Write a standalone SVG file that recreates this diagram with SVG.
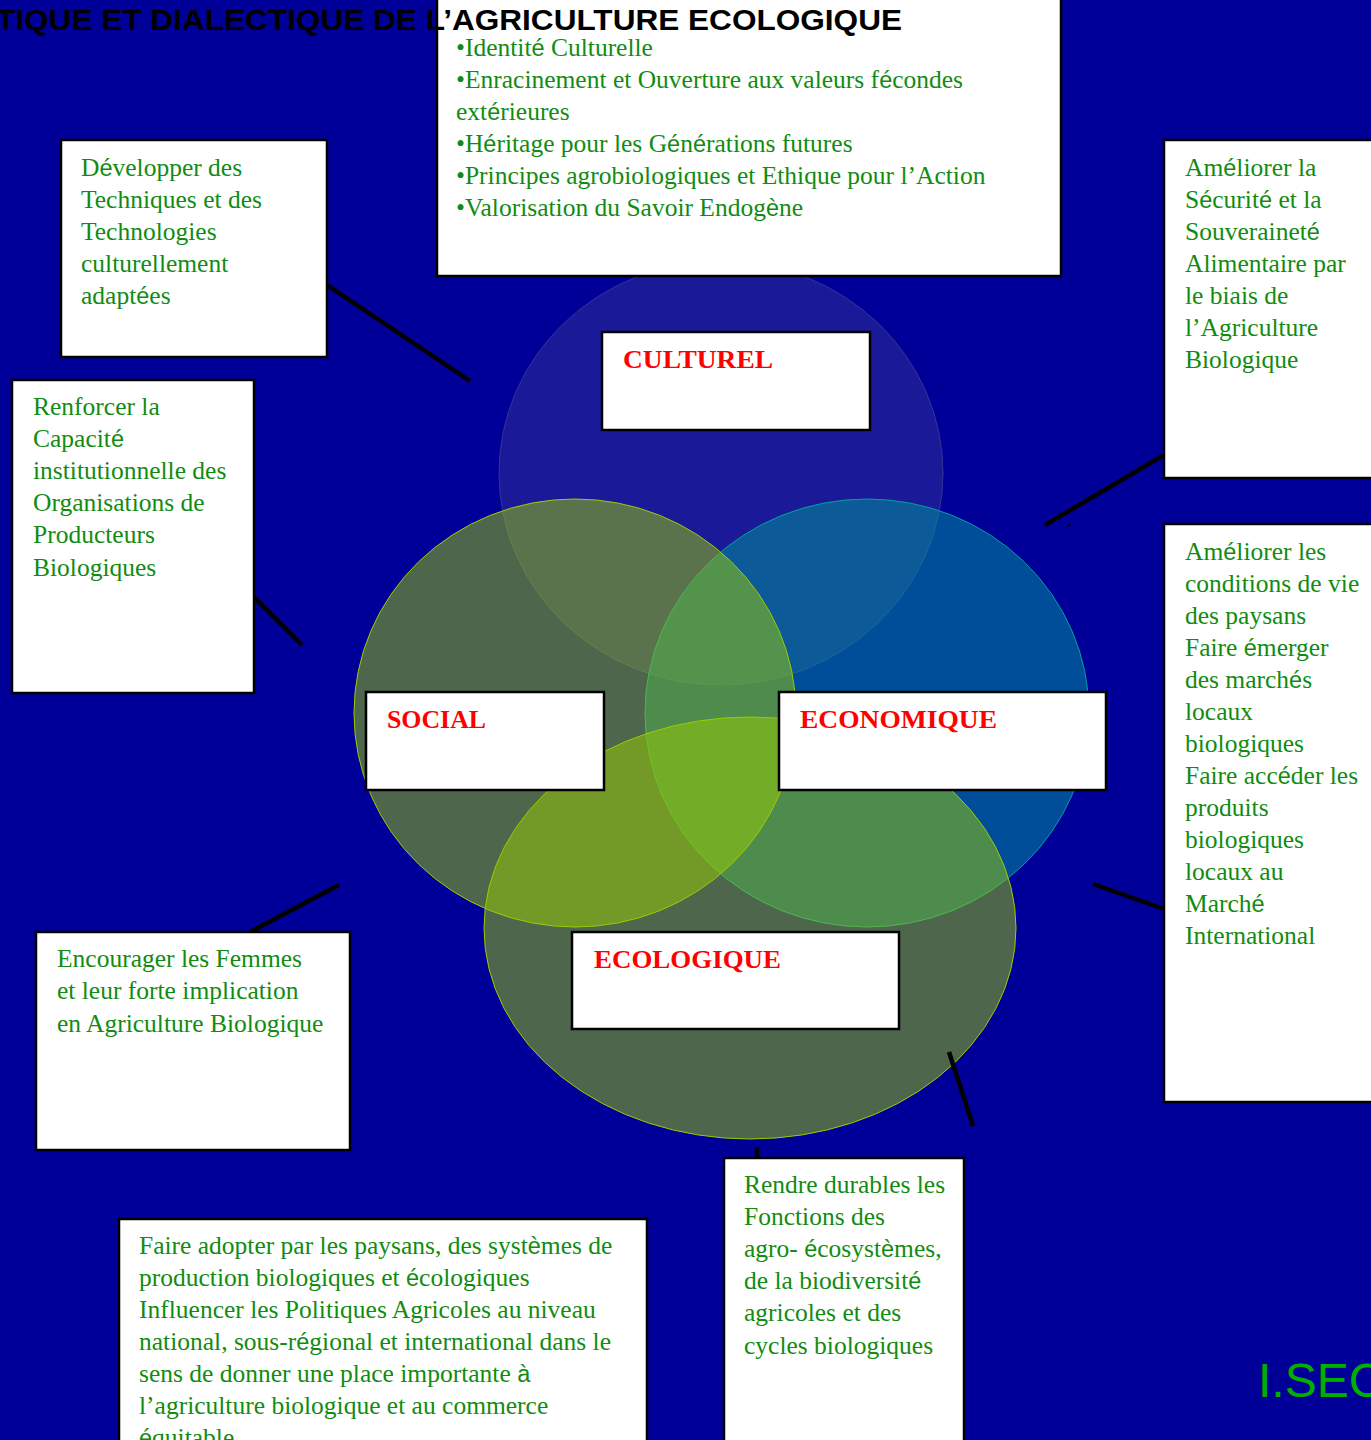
<svg xmlns="http://www.w3.org/2000/svg" width="1371" height="1440" viewBox="0 0 1371 1440">
<style>
.bg{fill:#000099}
.box{fill:#ffffff;stroke:#000000;stroke-width:2.5}
.t{font-family:"Liberation Serif","Times New Roman",serif;font-size:25.5px;fill:#118c11}
.a{font-family:"Liberation Sans",Arial,sans-serif;font-size:23.5px}
.lbl{font-family:"Liberation Serif","Times New Roman",serif;font-size:26px;font-weight:bold;fill:#ff0000}
.title{font-family:"Liberation Sans",Arial,sans-serif;font-size:29px;font-weight:bold;fill:#000000}
.conn{stroke:#000000;stroke-width:4.5;fill:none;stroke-linecap:butt}
.cul{fill:#333399;fill-opacity:0.5;stroke:#333399;stroke-width:1}
.eco{fill:#009999;fill-opacity:0.5;stroke:#00a0a0;stroke-width:1}
.soc{fill:#99cc00;fill-opacity:0.5;stroke:#99cc00;stroke-width:1}
</style>
<rect class="bg" x="0" y="0" width="1371" height="1440"/>

<g id="circles">
<ellipse id="c-culturel" class="cul" cx="721" cy="473" rx="222" ry="212"/>
<ellipse id="c-economique" class="eco" cx="867" cy="713" rx="222" ry="214"/>
<ellipse id="c-social" class="soc" cx="575" cy="713" rx="221" ry="214"/>
<ellipse id="c-ecologique" class="soc" cx="750" cy="928" rx="266" ry="211"/>
</g>

<g id="connectors">
<line class="conn" x1="327" y1="285" x2="470" y2="381"/>
<line class="conn" x1="254" y1="597" x2="302" y2="645"/>
<line class="conn" x1="250" y1="932" x2="339" y2="885"/>
<line class="conn" x1="757" y1="1147" x2="757" y2="1159"/>
<line class="conn" x1="949" y1="1052" x2="973" y2="1126"/>
<line class="conn" x1="1164" y1="455" x2="1045" y2="525"/>
<circle cx="1069" cy="525" r="1.5" fill="#000"/>
<line class="conn" x1="1093" y1="884" x2="1164" y2="909"/>
</g>

<g id="culture-values">
<rect class="box" x="437" y="-3" width="624" height="279"/>
<text class="t" x="456" y="56">•Identit<tspan class="a">é</tspan> Culturelle</text>
<text class="t" x="456" y="88">•Enracinement et Ouverture aux valeurs f<tspan class="a">é</tspan>condes</text>
<text class="t" x="456" y="120">ext<tspan class="a">é</tspan>rieures</text>
<text class="t" x="456" y="152">•H<tspan class="a">é</tspan>ritage pour les G<tspan class="a">é</tspan>n<tspan class="a">é</tspan>rations  futures</text>
<text class="t" x="456" y="184">•Principes agrobiologiques et Ethique pour l’Action</text>
<text class="t" x="456" y="216">•Valorisation du Savoir Endog<tspan class="a">è</tspan>ne</text>
</g>

<text id="title" class="title" x="-4" y="30" textLength="906" lengthAdjust="spacingAndGlyphs">TIQUE ET DIALECTIQUE DE L’AGRICULTURE ECOLOGIQUE</text>

<g id="n-technologies">
<rect class="box" x="61" y="140" width="266" height="217"/>
<text class="t" x="81" y="176">D<tspan class="a">é</tspan>velopper des</text>
<text class="t" x="81" y="208">Techniques et des</text>
<text class="t" x="81" y="240">Technologies</text>
<text class="t" x="81" y="272">culturellement</text>
<text class="t" x="81" y="304">adapt<tspan class="a">é</tspan>es</text>
</g>

<g id="n-capacite">
<rect class="box" x="12" y="380" width="242" height="313"/>
<text class="t" x="33" y="415">Renforcer la</text>
<text class="t" x="33" y="447">Capacit<tspan class="a">é</tspan></text>
<text class="t" x="33" y="479">institutionnelle des</text>
<text class="t" x="33" y="511">Organisations de</text>
<text class="t" x="33" y="543">Producteurs</text>
<text class="t" x="33" y="576">Biologiques</text>
</g>

<g id="n-femmes">
<rect class="box" x="36" y="932" width="314" height="218"/>
<text class="t" x="57" y="967">Encourager les Femmes</text>
<text class="t" x="57" y="999">et leur forte implication</text>
<text class="t" x="57" y="1032">en Agriculture Biologique</text>
</g>

<g id="n-politiques">
<rect class="box" x="119" y="1219" width="528" height="240"/>
<text class="t" x="139" y="1254">Faire adopter par les paysans, des syst<tspan class="a">è</tspan>mes de</text>
<text class="t" x="139" y="1286">production biologiques et <tspan class="a">é</tspan>cologiques</text>
<text class="t" x="139" y="1318">Influencer les Politiques Agricoles au niveau</text>
<text class="t" x="139" y="1350">national, sous-r<tspan class="a">é</tspan>gional et international dans le</text>
<text class="t" x="139" y="1382">sens de donner une place importante <tspan class="a">à</tspan></text>
<text class="t" x="139" y="1414">l’agriculture biologique et au commerce</text>
<text class="t" x="139" y="1446"><tspan class="a">é</tspan>quitable</text>
</g>

<g id="n-ecosystemes">
<rect class="box" x="724" y="1158" width="240" height="300"/>
<text class="t" x="744" y="1193">Rendre durables les</text>
<text class="t" x="744" y="1225">Fonctions des</text>
<text class="t" x="744" y="1257">agro- <tspan class="a">é</tspan>cosyst<tspan class="a">è</tspan>mes,</text>
<text class="t" x="744" y="1289">de la biodiversit<tspan class="a">é</tspan></text>
<text class="t" x="744" y="1321">agricoles et des</text>
<text class="t" x="744" y="1354">cycles biologiques</text>
</g>

<g id="n-securite">
<rect class="box" x="1164" y="140" width="220" height="338"/>
<text class="t" x="1185" y="176">Am<tspan class="a">é</tspan>liorer la</text>
<text class="t" x="1185" y="208">S<tspan class="a">é</tspan>curit<tspan class="a">é</tspan> et la</text>
<text class="t" x="1185" y="240">Souverainet<tspan class="a">é</tspan></text>
<text class="t" x="1185" y="272">Alimentaire par</text>
<text class="t" x="1185" y="304">le biais de</text>
<text class="t" x="1185" y="336">l’Agriculture</text>
<text class="t" x="1185" y="368">Biologique</text>
</g>

<g id="n-conditions">
<rect class="box" x="1164" y="524" width="220" height="578"/>
<text class="t" x="1185" y="560">Am<tspan class="a">é</tspan>liorer les</text>
<text class="t" x="1185" y="592">conditions de vie</text>
<text class="t" x="1185" y="624">des paysans</text>
<text class="t" x="1185" y="656">Faire <tspan class="a">é</tspan>merger</text>
<text class="t" x="1185" y="688">des march<tspan class="a">é</tspan>s</text>
<text class="t" x="1185" y="720">locaux</text>
<text class="t" x="1185" y="752">biologiques</text>
<text class="t" x="1185" y="784">Faire acc<tspan class="a">é</tspan>der les</text>
<text class="t" x="1185" y="816">produits</text>
<text class="t" x="1185" y="848">biologiques</text>
<text class="t" x="1185" y="880">locaux au</text>
<text class="t" x="1185" y="912">March<tspan class="a">é</tspan></text>
<text class="t" x="1185" y="944">International</text>
</g>

<g id="n-culturel">
<rect class="box" x="602" y="332" width="268" height="98"/>
<text class="lbl" x="623" y="368" textLength="150" lengthAdjust="spacingAndGlyphs">CULTUREL</text>
</g>
<g id="n-social">
<rect class="box" x="366" y="692" width="238" height="98"/>
<text class="lbl" x="387" y="728" textLength="99" lengthAdjust="spacingAndGlyphs">SOCIAL</text>
</g>
<g id="n-economique">
<rect class="box" x="779" y="692" width="327" height="98"/>
<text class="lbl" x="800" y="728" textLength="197" lengthAdjust="spacingAndGlyphs">ECONOMIQUE</text>
</g>
<g id="n-ecologique">
<rect class="box" x="572" y="932" width="327" height="97"/>
<text class="lbl" x="594" y="968" textLength="187" lengthAdjust="spacingAndGlyphs">ECOLOGIQUE</text>
</g>

<text id="signature" x="1258" y="1397" font-family="'Liberation Sans',Arial,sans-serif" font-size="48" fill="#00b000">I.SEC</text>
</svg>
